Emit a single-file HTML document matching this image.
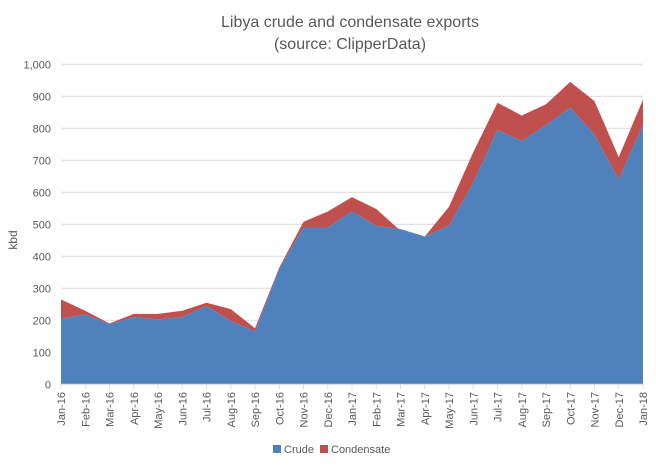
<!DOCTYPE html>
<html><head><meta charset="utf-8"><style>
body{margin:0;background:#fff;font-family:"Liberation Sans",sans-serif;}
svg text{font-family:"Liberation Sans",sans-serif;fill:#595959;}
</style></head><body>
<svg id="s" width="656" height="462" xmlns="http://www.w3.org/2000/svg">
<text x="350" y="27" font-size="16" text-anchor="middle">Libya crude and condensate exports</text>
<text x="350" y="49" font-size="16" text-anchor="middle">(source: ClipperData)</text>
<g id="g"></g>
<text transform="translate(17,240) rotate(-90)" font-size="12" text-anchor="middle">kbd</text>
<rect x="273" y="445" width="8" height="8" fill="#4f81bd"/>
<text x="284" y="453" font-size="11">Crude</text>
<rect x="320" y="445" width="8" height="8" fill="#c0504d"/>
<text x="331" y="453" font-size="11">Condensate</text>
</svg>
<script>
var crude=[205,218,188,210,203,210,245,198,165,360,490,490,540,495,485,462,495,630,795,760,810,865,780,640,810];
var tot=[265,230,190,220,220,230,255,235,175,365,508,540,585,548,480,462,555,725,880,840,875,945,885,710,890];
var lab=["Jan-16","Feb-16","Mar-16","Apr-16","May-16","Jun-16","Jul-16","Aug-16","Sep-16","Oct-16","Nov-16","Dec-16","Jan-17","Feb-17","Mar-17","Apr-17","May-17","Jun-17","Jul-17","Aug-17","Sep-17","Oct-17","Nov-17","Dec-17","Jan-18"];
function X(i){return 61+i*24.25;}function Y(v){return 384.3-v*0.32;}
var h='';
for(var k=0;k<=10;k++){var y=Y(k*100);h+='<line x1="61" x2="643" y1="'+y+'" y2="'+y+'" stroke="#d9d9d9"/>';
h+='<text x="51" y="'+(y+4)+'" font-size="11" text-anchor="end">'+(k==10?'1,000':k*100)+'</text>';}
var p='',q='';
for(var i=0;i<25;i++){p+=X(i)+','+Y(tot[i])+' ';}
for(var i=24;i>=0;i--){p+=X(i)+','+Y(crude[i])+' ';}
h+='<polygon points="'+p+'" fill="#c0504d"/>';
q=X(0)+','+Y(0)+' ';for(var i=0;i<25;i++)q+=X(i)+','+Y(crude[i])+' ';q+=X(24)+','+Y(0);
h+='<polygon points="'+q+'" fill="#4f81bd"/>';
h+='<line x1="61" x2="643" y1="384.3" y2="384.3" stroke="#d9d9d9"/>';
for(var i=0;i<25;i++){h+='<line x1="'+X(i)+'" x2="'+X(i)+'" y1="384" y2="389" stroke="#d9d9d9"/>';
h+='<text transform="translate('+(X(i)+4)+',392) rotate(-90)" font-size="11" text-anchor="end">'+lab[i]+'</text>';}
document.getElementById('g').innerHTML=h;
</script>
</body></html>
